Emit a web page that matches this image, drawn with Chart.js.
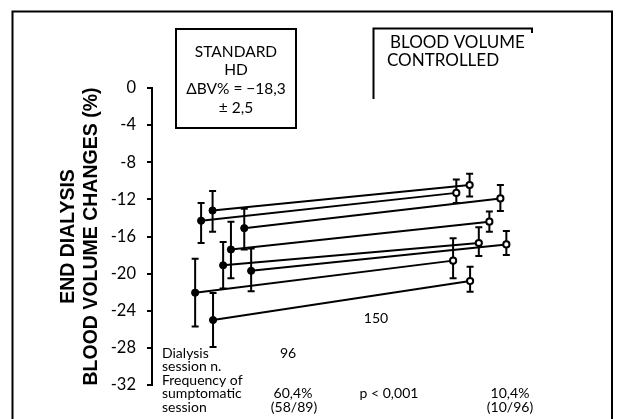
<!DOCTYPE html>
<html>
<head>
<meta charset="utf-8">
<script src="https://cdn.jsdelivr.net/npm/chart.js@4.4.1/dist/chart.umd.min.js"></script>
<style>
  html, body { margin: 0; padding: 0; background: #fff; }
  #wrap { width: 623px; height: 419px; }
</style>
</head>
<body>
<div id="wrap"><canvas id="c"></canvas></div>
<script>
// one entry per patient; x is the horizontal place in the panel (0-100)
const stdX    = [10.7, 13.2, 20.1, 17.2, 15.5, 21.6, 9.4, 13.3];
const stdMean = [-14.3, -13.2, -15.1, -17.4, -19.1, -19.7, -22.05, -25.0];
const stdLo   = [-16.7, -15.5, -17.4, -20.5, -21.6, -21.9, -25.7, -27.9];
const stdHi   = [-12.4, -11.1, -13.0, -14.4, -16.6, -17.3, -18.4, -22.1];

const bvcX    = [66.3, 69.2, 75.9, 73.5, 71.2, 77.2, 65.6, 69.3];
const bvcMean = [-11.3, -10.45, -11.9, -14.4, -16.7, -16.85, -18.6, -20.8];
const bvcLo   = [-12.4, -11.7, -13.25, -15.5, -18.1, -18.0, -20.5, -21.95];
const bvcHi   = [-9.85, -9.25, -10.45, -13.3, -15.0, -15.4, -16.2, -19.25];

const yTicks = [0, -4, -8, -12, -16, -20, -24, -28, -32];

const FONT = 'Lato, "Noto Sans", sans-serif';

const datasets = stdX.map((x, i) => ({
    data: [{ x: x, y: stdMean[i] }, { x: bvcX[i], y: bvcMean[i] }],
    lo: [stdLo[i], bvcLo[i]],
    hi: [stdHi[i], bvcHi[i]],
    borderColor: '#000',
    borderWidth: 2,
    pointRadius: [3.6, 3.1],
    pointBorderWidth: [1, 2],
    pointBackgroundColor: ['#000', '#fff'],
    pointBorderColor: '#000'
}));

// error bars go under the points
const errorBars = {
    id: 'errorBars',
    beforeDatasetsDraw(chart) {
        const ctx = chart.ctx, ys = chart.scales.y;
        ctx.save();
        ctx.strokeStyle = '#000';
        ctx.lineWidth = 2;
        chart.data.datasets.forEach((ds, i) => {
            chart.getDatasetMeta(i).data.forEach((pt, j) => {
                const top = ys.getPixelForValue(ds.hi[j]);
                const bot = ys.getPixelForValue(ds.lo[j]);
                ctx.beginPath();
                ctx.moveTo(pt.x, top); ctx.lineTo(pt.x, bot);
                ctx.moveTo(pt.x - 3.5, top); ctx.lineTo(pt.x + 3.5, top);
                ctx.moveTo(pt.x - 3.5, bot); ctx.lineTo(pt.x + 3.5, bot);
                ctx.stroke();
            });
        });
        ctx.restore();
    }
};

// frame, the two group boxes and the table under the plot
const decor = {
    id: 'decor',
    afterDraw(chart) {
        const ctx = chart.ctx;
        ctx.save();
        ctx.strokeStyle = '#000';
        ctx.lineWidth = 2;
        ctx.strokeRect(12.5, 11.5, 599.5, 430);
        ctx.strokeRect(176, 29, 120, 99);
        ctx.beginPath();
        ctx.moveTo(373.5, 99); ctx.lineTo(373.5, 28.5); ctx.lineTo(532, 28.5); ctx.lineTo(532, 33);
        ctx.stroke();

        ctx.fillStyle = '#000';
        ctx.textBaseline = 'middle';
        ctx.textAlign = 'center';
        ctx.font = '15.5px ' + FONT;
        ctx.fillText('STANDARD', 236, 52);
        ctx.fillText('HD', 236, 70);
        ctx.fillText('\u0394BV% = \u221218,3', 236, 89);
        ctx.fillText('\u00b1 2,5', 236, 108);

        // the scan cuts this label at the right edge of its box
        ctx.save();
        ctx.beginPath();
        ctx.rect(374, 30, 158, 60);
        ctx.clip();
        ctx.textAlign = 'left';
        ctx.font = '17px ' + FONT;
        ctx.fillText('BLOOD VOLUME', 390, 43);
        ctx.fillText('CONTROLLED', 387, 61);
        ctx.restore();

        ctx.textAlign = 'left';
        ctx.font = '14px ' + FONT;
        ['Dialysis', 'session n.', 'Frequency of', 'sumptomatic', 'session']
            .forEach((t, k) => ctx.fillText(t, 162, 353 + k * 13.5));
        ctx.textAlign = 'center';
        ctx.fillText('96', 288, 353);
        ctx.fillText('150', 376, 318);
        ctx.fillText('60,4%', 293, 393);
        ctx.fillText('(58/89)', 294, 407);
        ctx.fillText('p < 0,001', 389, 393);
        ctx.fillText('10,4%', 510, 393);
        ctx.fillText('(10/96)', 510, 407);
        ctx.restore();
    }
};

new Chart(document.getElementById('c'), {
    type: 'line',
    data: { datasets: datasets },
    options: {
        responsive: true, maintainAspectRatio: false, animation: false,
        layout: { padding: { left: 0, top: 88, right: 12, bottom: 34 } },
        plugins: { legend: { display: false }, tooltip: { enabled: false } },
        scales: {
            x: { type: 'linear', min: 0, max: 100, display: false },
            y: {
                min: -32, max: 0,
                afterBuildTicks: s => { s.ticks = yTicks.map(v => ({ value: v })); },
                afterFit: s => { s.width = 152; },
                grid: { drawOnChartArea: false, tickLength: 5, color: '#000', lineWidth: 2 },
                border: { color: '#000', width: 2 },
                ticks: { color: '#000', padding: 11, font: { family: FONT, size: 16.5 } },
                title: {
                    display: true,
                    text: ['END DIALYSIS', 'BLOOD VOLUME CHANGES (%)'],
                    color: '#000',
                    font: { family: '"Liberation Sans", Arial, sans-serif', size: 19.5, weight: 'bold' },
                    padding: { top: 57, bottom: 0 }
                }
            }
        }
    },
    plugins: [errorBars, decor]
});
</script>
</body>
</html>
